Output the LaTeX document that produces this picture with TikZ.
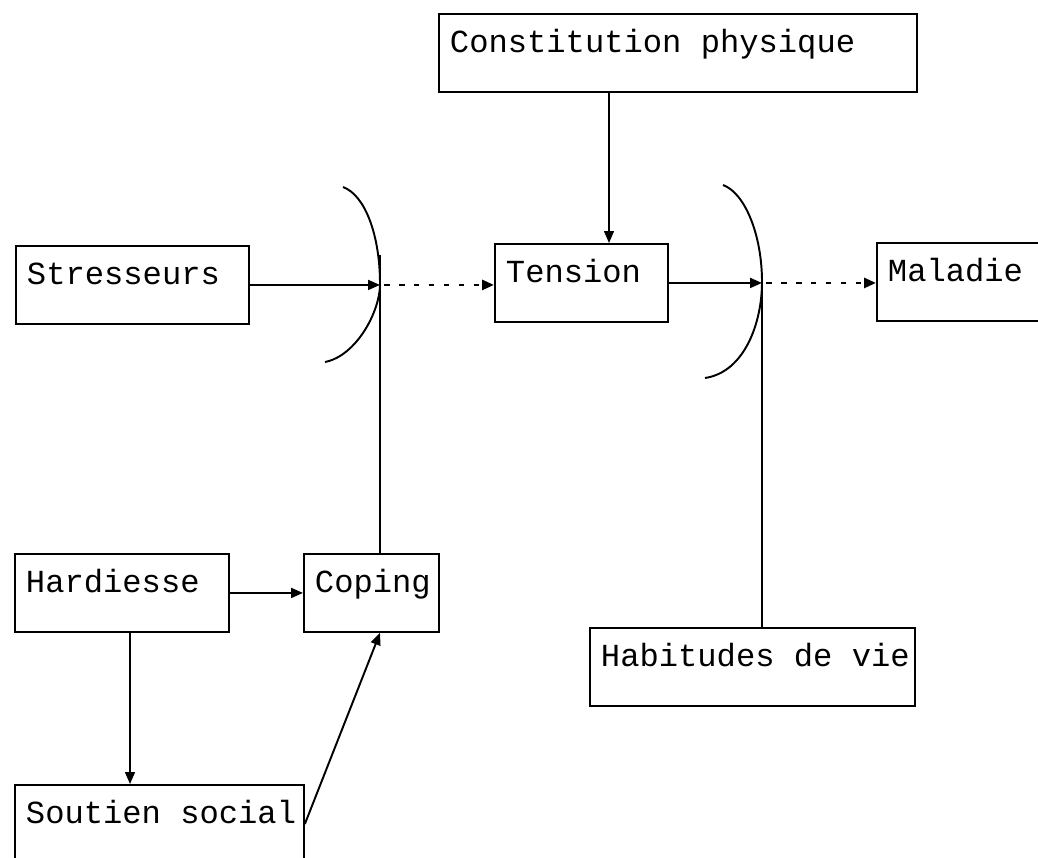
\documentclass[tikz,border=0pt]{standalone}
\usepackage{fontspec}
\setmainfont{Liberation Mono}[WordSpace={1,0,0}]
\usetikzlibrary{arrows.meta}
\newcommand{\esp}{\hphantom{a}}
\begin{document}
\begin{tikzpicture}[x=0.02cm, y=-0.02cm, >={Triangle[length=0.24cm,width=0.2cm]},
    box/.style={draw, line width=1.1pt, anchor=north west, align=left,
      text width=#1, inner xsep=0.22cm, minimum height=1.56cm,
      text height=10pt, text depth=10pt, font=\fontsize{18.3}{21}\selectfont},
    pil/.style={->, line width=1.1pt},
    fin/.style={->, line width=0.8pt},
    pointille/.style={->, line width=1.6pt, dash pattern=on 0.11cm off 0.19cm}]
    \useasboundingbox (0,0) rectangle (1038,858);
    \node[box=9.12cm] (cons) at (438,13) {Constitution\esp physique};
    \node[box=4.22cm] (stress) at (15,245) {Stresseurs};
    \node[box=3.02cm] (tens) at (494,243) {Tension};
    \node[box=3.04cm] (mal) at (876,242) {Maladie};
    \node[box=3.84cm] (hard) at (14,553) {Hardiesse};
    \node[box=2.26cm] (cop) at (303,553) {Coping};
    \node[box=5.34cm] (sout) at (14,784) {Soutien\esp social};
    \node[box=6.06cm] (habit) at (589,627) {Habitudes\esp de\esp vie};
    % points de jonction
    \coordinate (v1) at (380,255);
    \coordinate (v2) at (762,275);
    \coordinate (c1) at (609,0);
    \coordinate (c2) at (130,0);
    % barrieres
    \draw[line width=1.1pt] (343,187) .. controls (365,195) and (380,235) .. (380,284)
      .. controls (380,312) and (356,356) .. (325,362);
    \draw[line width=1.1pt] (723,185) .. controls (745,193) and (762,235) .. (762,282)
      .. controls (762,322) and (745,372) .. (705,378);
    \draw[line width=1.1pt] (v1) -- (v1 |- cop.north);
    \draw[line width=1.1pt] (v2) -- (v2 |- habit.north);
    % fleches
    \draw[pil] (stress.east) -- (stress.east -| v1);
    \draw[pointille] (stress.east -| v1) ++(4,0) -- (stress.east -| tens.west);
    \draw[fin] (cons.south -| c1) -- (tens.north -| c1);
    \draw[pil] (tens.east) -- (tens.east -| v2);
    \draw[pointille] (tens.east -| v2) ++(4,0) -- (tens.east -| mal.west);
    \draw[pil] (hard.east) -- (hard.east -| cop.west);
    \draw[fin] (hard.south -| c2) -- (sout.north -| c2);
    \draw[pil] (sout.east) -- (cop.south -| v1);
\end{tikzpicture}
\end{document}
